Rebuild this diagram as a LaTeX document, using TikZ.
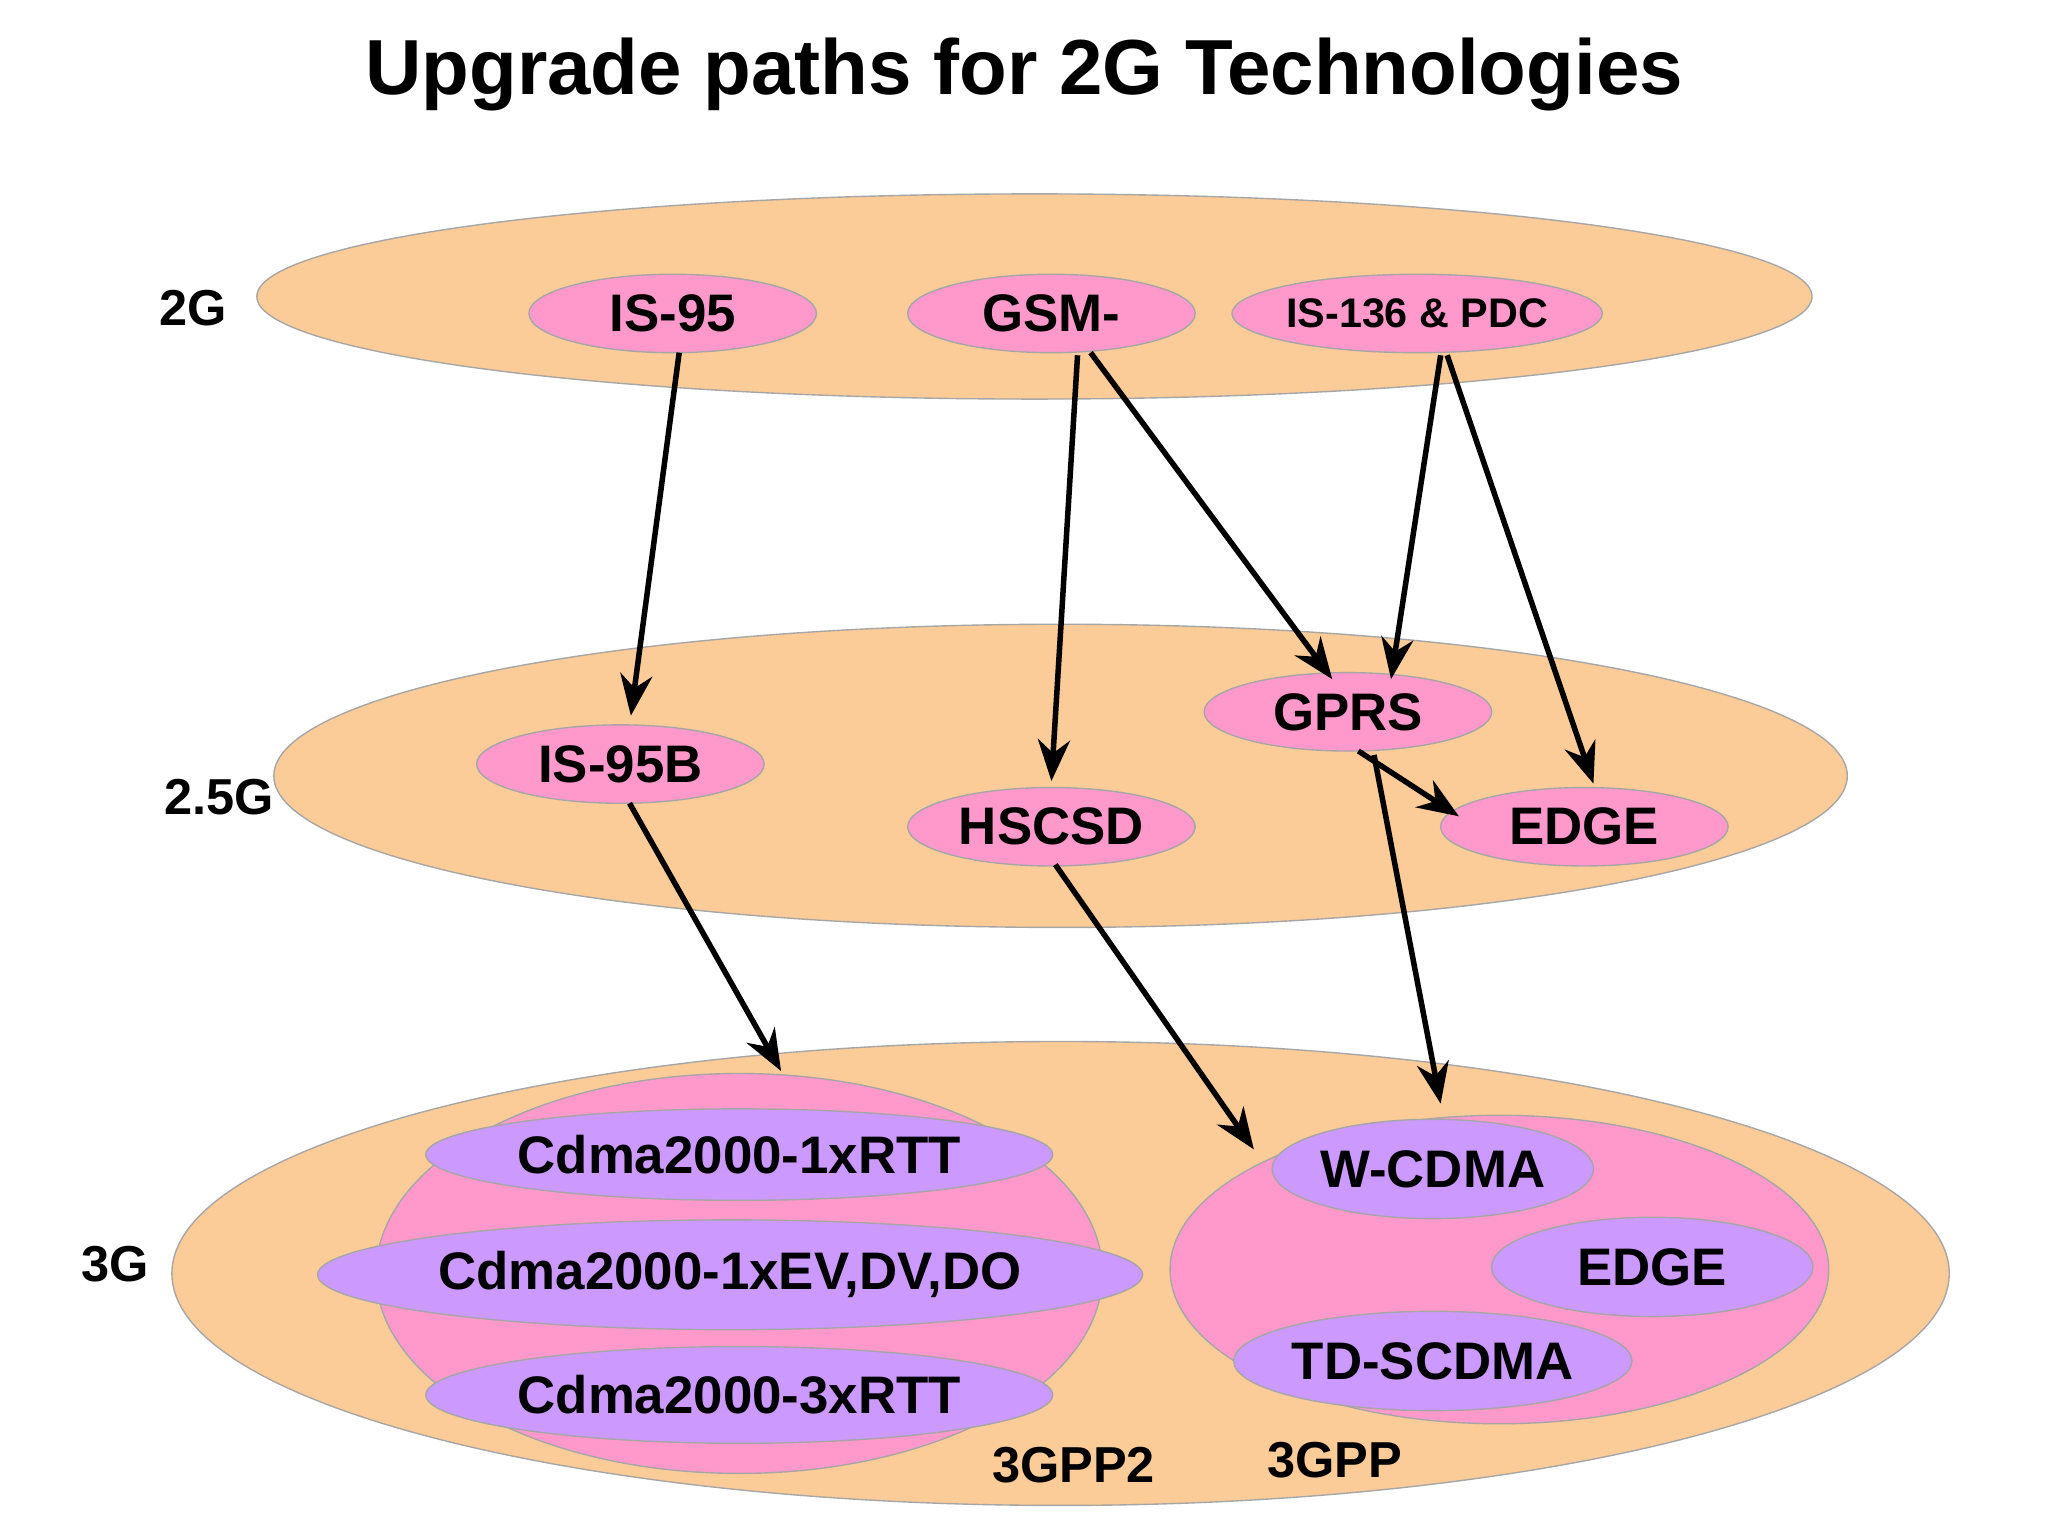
\documentclass[tikz,border=0pt]{standalone}
\usepackage{fontspec}
\setmainfont{Liberation Sans}
\usetikzlibrary{shapes.geometric,arrows.meta}
\definecolor{band}{HTML}{FBCB98}
\definecolor{pinkf}{HTML}{FF99CC}
\definecolor{purp}{HTML}{CC99FF}
\tikzset{
 band/.style={ellipse,draw=gray!70,line width=0.3pt,fill=band,inner sep=0},
 tech/.style={ellipse,draw=gray!70,line width=0.3pt,fill=pinkf,inner sep=0,font=\fontsize{11.5}{13}\selectfont\bfseries},
 sub/.style={ellipse,draw=gray!70,line width=0.3pt,fill=purp,inner sep=0,font=\fontsize{11.5}{13}\selectfont\bfseries},
 lbl/.style={font=\fontsize{11}{13}\selectfont\bfseries},
 arr/.style={line width=1.2pt,-{Stealth[length=9pt,width=7pt]}},
 sz/.style 2 args={minimum width=#1cm,minimum height=#2cm}
}
\begin{document}
\begin{tikzpicture}[x=0.01cm,y=-0.01cm]
\useasboundingbox[fill=white] (0,0) rectangle (1568,1176);
\node[font=\fontsize{17}{20}\selectfont\bfseries] (title) at (784,57) {Upgrade paths for 2G Technologies};
\node[band,sz={11.90}{1.57}] (b2) at (792,227) {};
\node[band,sz={12.04}{2.32}] (b25) at (812,594) {};
\node[band,sz={13.60}{3.55}] (b3) at (812,975) {};
\node[lbl] (l2) at (148,236) {2G};
\node[lbl] (l25) at (168,610) {2.5G};
\node[lbl] (l3) at (88,968) {3G};
\node[tech,sz={2.2}{0.6}] (is95) at (515,240) {IS-95};
\node[tech,sz={2.2}{0.6}] (gsm) at (805,240) {GSM-};
\node[tech,sz={2.2}{0.6},font=\fontsize{9}{11}\selectfont\bfseries] (is136) at (1085,240) {IS-136 \& PDC};
\node[tech,sz={2.2}{0.6}] (gprs) at (1032,545) {GPRS};
\node[tech,sz={2.2}{0.6}] (is95b) at (475,585) {IS-95B};
\node[tech,sz={2.2}{0.6}] (hscsd) at (805,633) {HSCSD};
\node[tech,sz={2.2}{0.6}] (edge1) at (1213,633) {EDGE};
\node[tech,sz={5.56}{3.06}] (g2) at (566,975) {};
\node[tech,sz={5.04}{2.36}] (g1) at (1148,972) {};
\node[sub,sz={4.26}{0.70}] (c1) at (566,884) {Cdma2000-1xRTT};
\node[sub,sz={5.16}{0.84}] (c2) at (559,976) {Cdma2000-1xEV,DV,DO};
\node[sub,sz={4.26}{0.74}] (c3) at (566,1068) {Cdma2000-3xRTT};
\node[sub,sz={2.46}{0.76}] (wc) at (1097,895) {W-CDMA};
\node[sub,sz={2.46}{0.76}] (edge2) at (1265,970) {EDGE};
\node[sub,sz={2.46}{0.76}] (td) at (1097,1042) {TD-SCDMA};
\node[lbl] (p2) at (822,1122) {3GPP2};
\node[lbl] (p1) at (1022,1118) {3GPP};
\coordinate (a1) at (520,270); \coordinate (a1e) at (483,548);
\coordinate (a2) at (825,272); \coordinate (a2e) at (805,598);
\coordinate (a3) at (835,270); \coordinate (a3e) at (1020,520);
\coordinate (a4) at (1103,272); \coordinate (a4e) at (1065,520);
\coordinate (a5) at (1108,272); \coordinate (a5e) at (1220,600);
\coordinate (a6) at (1040,575); \coordinate (a6e) at (1117,625);
\coordinate (a7) at (1052,578); \coordinate (a7e) at (1103,845);
\coordinate (a8) at (482,615); \coordinate (a8e) at (598,820);
\coordinate (a9) at (808,662); \coordinate (a9e) at (960,880);
\draw[arr] (a1) -- (a1e);
\draw[arr] (a2) -- (a2e);
\draw[arr] (a3) -- (a3e);
\draw[arr] (a4) -- (a4e);
\draw[arr] (a5) -- (a5e);
\draw[arr] (a6) -- (a6e);
\draw[arr] (a7) -- (a7e);
\draw[arr] (a8) -- (a8e);
\draw[arr] (a9) -- (a9e);
\end{tikzpicture}
\end{document}
